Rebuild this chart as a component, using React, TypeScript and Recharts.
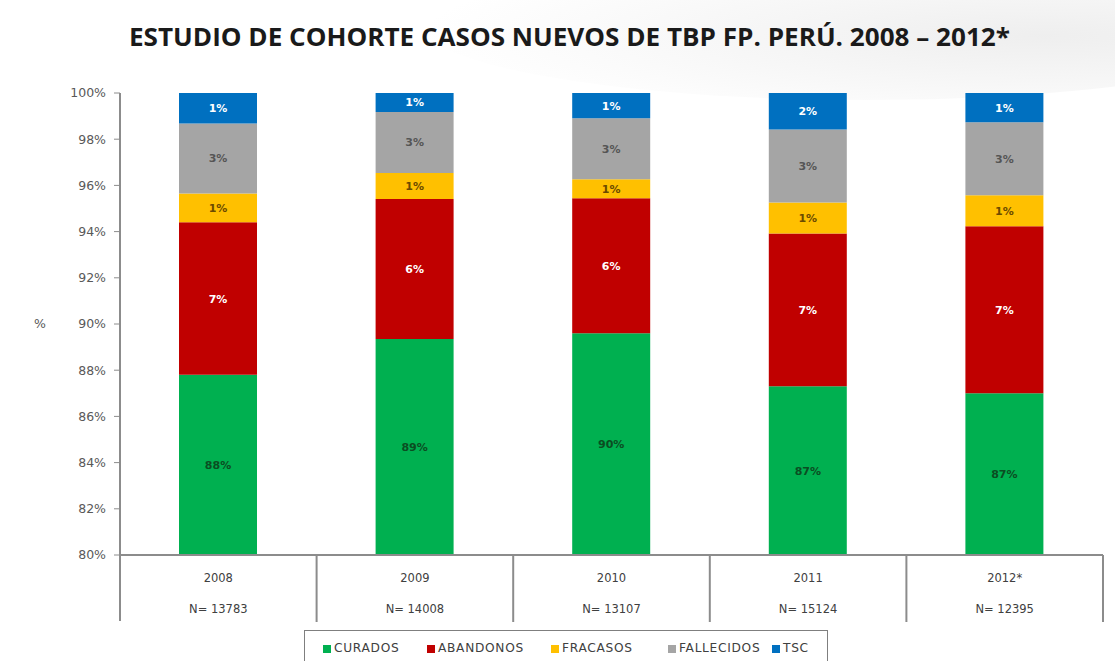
import React from 'react';
import { BarChart, Bar, XAxis, YAxis, LabelList } from 'recharts';

const years = ['2008', '2009', '2010', '2011', '2012*'];
const nLabels = ['N= 13783', 'N= 14008', 'N= 13107', 'N= 15124', 'N= 12395'];
const curados = [87.8, 89.35, 89.6, 87.3, 87.0];
const abandonos = [6.6, 6.06, 5.84, 6.62, 7.23];
const fracasos = [1.25, 1.13, 0.83, 1.34, 1.34];
const fallecidos = [3.03, 2.64, 2.64, 3.16, 3.16];
const tsc = [1.32, 0.82, 1.09, 1.58, 1.27];
const yTicks = [80, 82, 84, 86, 88, 90, 92, 94, 96, 98, 100];

const series = [
  { key: 'CURADOS', values: curados, color: '#00B050', label: '#0b4d22' },
  { key: 'ABANDONOS', values: abandonos, color: '#C00000', label: '#ffffff' },
  { key: 'FRACASOS', values: fracasos, color: '#FFC000', label: '#6b4a00' },
  { key: 'FALLECIDOS', values: fallecidos, color: '#A5A5A5', label: '#555555' },
  { key: 'TSC', values: tsc, color: '#0070C0', label: '#ffffff' },
];

const data = years.map((y, i) => {
  const row: any = { year: y, n: nLabels[i] };
  series.forEach((s) => (row[s.key] = s.values[i]));
  return row;
});

const TOP = 93;
const PLOT_H = 462;
const LEFT = 120;
const PLOT_W = 983;
const BAND = PLOT_W / years.length;
const LEGEND_X = [323, 427, 551, 668, 772];

const XTick = (props: any) => {
  const { x, payload, index } = props;
  const right = x + BAND / 2;
  const left = x - BAND / 2;
  return (
    <g>
      {index === 0 && <line x1={left} y1={TOP + PLOT_H} x2={left} y2={TOP + PLOT_H + 66} stroke="#8c8c8c" strokeWidth={2} />}
      <line x1={right} y1={TOP + PLOT_H} x2={right} y2={TOP + PLOT_H + 67} stroke="#8c8c8c" strokeWidth={2} />
      <text x={x} y={TOP + PLOT_H + 27} textAnchor="middle" fontSize={11.5} fill="#404040" fontFamily="DejaVu Sans">
        {payload.value}
      </text>
      <text x={x} y={TOP + PLOT_H + 58} textAnchor="middle" fontSize={11.5} fill="#404040" fontFamily="DejaVu Sans">
        {data[index] ? data[index].n : ''}
      </text>
    </g>
  );
};

const makeLabel = (color: string, clipBottom: boolean) => (props: any) => {
  const { x, y, width, height, value } = props;
  const cx = x + width / 2;
  let cy = y + height / 2;
  if (clipBottom) cy = y + (TOP + PLOT_H - y) / 2;
  return (
    <text x={cx} y={cy} dy={4} textAnchor="middle" fontSize={11} fontWeight="bold" fill={color} fontFamily="DejaVu Sans">
      {Math.round(value) + '%'}
    </text>
  );
};

const LegendBox = () => (
  <div
    style={{
      position: 'absolute',
      left: 304,
      top: 630,
      border: '1px solid #7f7f7f',
      width: 524,
      height: 36,
      boxSizing: 'border-box',
      background: '#ffffff',
    }}
  >
    {series.map((s, i) => (
      <span
        key={s.key}
        style={{
          position: 'absolute',
          left: LEGEND_X[i] - 305,
          top: 10,
          display: 'flex',
          alignItems: 'center',
          fontFamily: 'DejaVu Sans',
          fontSize: 12.2,
          letterSpacing: 0.7,
          color: '#404040',
          lineHeight: '15px',
          whiteSpace: 'nowrap',
        }}
      >
        <span style={{ width: 8, height: 8, background: s.color, display: 'inline-block', marginRight: 3 }} />
        {s.key}
      </span>
    ))}
  </div>
);

export default function App() {
  return (
    <div style={{ position: 'absolute', left: 0, top: 0, width: 1115, height: 661, background: '#ffffff', overflow: 'hidden' }}>
      <div
        style={{
          position: 'absolute',
          right: -200,
          top: -60,
          width: 900,
          height: 160,
          borderRadius: '50%',
          background: 'radial-gradient(ellipse at 70% 60%, rgba(200,200,200,0.3), rgba(255,255,255,0) 70%)',
        }}
      />
      <svg style={{ position: 'absolute', left: 0, top: 0 }} width={1115} height={70}>
        <text
          x={129}
          y={46}
          textLength={881}
          lengthAdjust="spacingAndGlyphs"
          fontFamily="Open Sans"
          fontWeight="bold"
          fontSize={25}
          fill="#1a1a1a"
        >
          ESTUDIO DE COHORTE CASOS NUEVOS DE TBP FP. PERÚ. 2008 – 2012*
        </text>
      </svg>
      <div style={{ position: 'absolute', left: 0, top: 0 }}>
        <BarChart width={1115} height={661} data={data} margin={{ top: TOP, right: 1115 - LEFT - PLOT_W, bottom: 0, left: 0 }} barSize={78}>
          <XAxis
            dataKey="year"
            tick={<XTick />}
            tickLine={false}
            axisLine={{ stroke: '#8c8c8c', strokeWidth: 2 }}
            interval={0}
            height={661 - TOP - PLOT_H}
          />
          <YAxis
            width={LEFT}
            domain={[80, 100]}
            allowDataOverflow
            ticks={yTicks}
            tickFormatter={(v: number) => v + '%'}
            axisLine={{ stroke: '#8c8c8c', strokeWidth: 2 }}
            tickLine={{ stroke: '#8c8c8c' }}
            tickSize={6}
            tickMargin={8}
            tick={{ fontSize: 12.5, fill: '#595959', fontFamily: 'DejaVu Sans' }}
            label={{ value: '%', position: 'insideLeft', offset: 34, fill: '#595959', fontSize: 12.5, fontFamily: 'DejaVu Sans' }}
          />
          {series.map((s, i) => (
            <Bar key={s.key} dataKey={s.key} stackId="a" fill={s.color} isAnimationActive={false}>
              <LabelList dataKey={s.key} content={makeLabel(s.label, i === 0)} />
            </Bar>
          ))}
        </BarChart>
      </div>
      <LegendBox />
    </div>
  );
}
